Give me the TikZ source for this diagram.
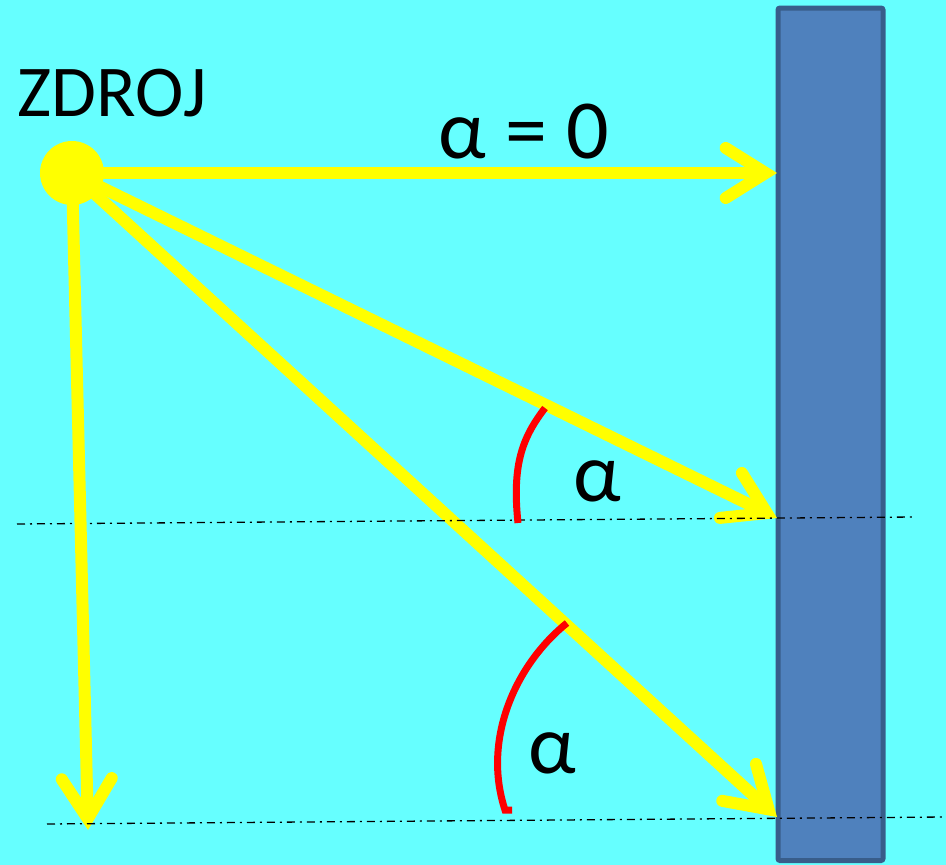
\documentclass[tikz,border=0pt]{standalone}
\usepackage{fontspec}
\setmainfont{Carlito}
\usetikzlibrary{arrows.meta}
\definecolor{bgcyan}{HTML}{66FFFF}
\definecolor{wallfill}{HTML}{4F81BD}
\definecolor{walledge}{HTML}{385D8A}
\definecolor{rayyellow}{HTML}{FFFF00}
\definecolor{arcred}{HTML}{FF0000}
\tikzset{
  ray/.style={draw=rayyellow, line width=12pt,
    -{Straight Barb[length=40pt,width=50pt,line cap=round,line join=miter]}},
  refline/.style={draw=black, line width=1.3pt, dash pattern=on 8pt off 5pt on 2pt off 5pt},
  anglearc/.style={draw=arcred, line width=7pt},
  bigtext/.style={font=\fontsize{73}{88}\selectfont, inner sep=0pt, anchor=base},
  alphatext/.style={font=\fontsize{84}{100}\selectfont, inner sep=0pt, anchor=base},
}
\begin{document}
\begin{tikzpicture}[x=1pt,y=-1pt]
\useasboundingbox (0,0) rectangle (946,865);
\fill[bgcyan] (0,0) rectangle (946,865);
% wall
\node[draw=walledge, fill=wallfill, line width=5pt, rounded corners=2pt, outer sep=0pt,
      minimum width=105pt, minimum height=852.5pt, inner sep=0pt, anchor=north west]
      (wall) at (778,8) {};
% source
\node[circle, fill=rayyellow, minimum size=64pt, inner sep=0pt] (src) at (72,173) {};
\coordinate (t1) at (777,173);
\coordinate (t2) at (777,518);
\coordinate (t3) at (777,817);
\coordinate (t4) at (88,830);
\coordinate (d1a) at (17,524);
\coordinate (d1b) at (915,517);
\coordinate (d2a) at (47,824);
\coordinate (d2b) at (945,817);
% rays
\draw[ray] (src.center) -- (t1);
\draw[ray] (src.center) -- (t2);
\draw[ray] (src.center) -- (t3);
\draw[refline] (d1a) -- (d1b);
\draw[ray] (src.center) -- (t4);
\draw[refline] (d2a) -- (d2b);
% angle arcs
\draw[anglearc] (545,408) .. controls (522,438) and (512,465) .. (518,523);
\draw[anglearc] (567,623) .. controls (515,665) and (482,740) .. (505,810) -- (512,810);
% labels
\node[bigtext] (zdroj) at (112,116) {ZDROJ};
\node[alphatext] (a0) at (524,158) {α = 0};
\node[alphatext] (a1) at (597,501) {α};
\node[alphatext] (a2) at (552,773) {α};
\end{tikzpicture}
\end{document}
